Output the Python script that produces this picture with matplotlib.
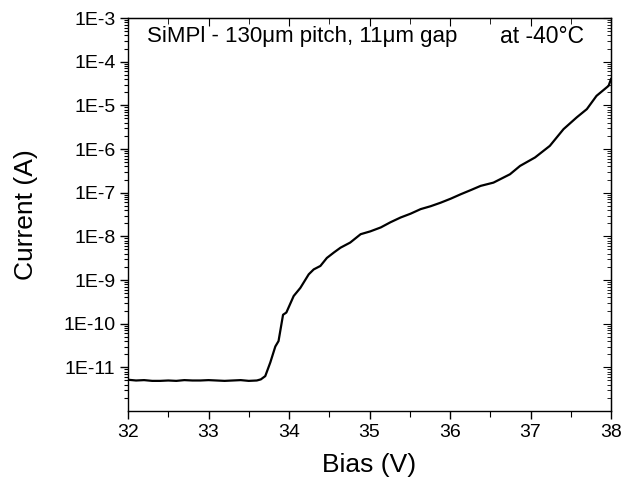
import matplotlib
matplotlib.use("Agg")
import matplotlib.pyplot as plt
from matplotlib.ticker import FixedLocator, LogLocator, NullFormatter, MultipleLocator

plt.rcParams['font.family'] = ['Liberation Sans', 'DejaVu Sans']

bias = [32.00, 32.10, 32.20, 32.30, 32.40, 32.50, 32.60, 32.70, 32.80, 32.90,
        33.00, 33.10, 33.20, 33.30, 33.40, 33.50, 33.60, 33.65, 33.705, 33.768,
        33.83, 33.87, 33.926, 33.967, 34.058, 34.141, 34.245, 34.307, 34.39, 34.47,
        34.56, 34.64, 34.76, 34.89, 35.01, 35.14, 35.26, 35.386, 35.51, 35.635,
        35.76, 35.884, 36.01, 36.133, 36.26, 36.38, 36.54, 36.745, 36.87, 37.056,
        37.24, 37.41, 37.574, 37.70, 37.82, 37.97, 38.00]
current = [5.2e-12, 5.0e-12, 5.1e-12, 4.9e-12, 4.9e-12, 5.0e-12, 4.9e-12, 5.1e-12, 5.0e-12, 5.0e-12,
           5.1e-12, 5.0e-12, 4.9e-12, 5.0e-12, 5.1e-12, 4.9e-12, 5.0e-12, 5.3e-12, 6.3e-12, 1.3e-11,
           3.0e-11, 4.0e-11, 1.6e-10, 1.8e-10, 4.3e-10, 6.6e-10, 1.35e-9, 1.75e-9, 2.1e-9, 3.2e-9,
           4.3e-9, 5.5e-9, 7.2e-9, 1.12e-8, 1.3e-8, 1.6e-8, 2.1e-8, 2.7e-8, 3.3e-8, 4.2e-8,
           4.9e-8, 5.9e-8, 7.3e-8, 9.2e-8, 1.15e-7, 1.43e-7, 1.7e-7, 2.64e-7, 4.1e-7, 6.4e-7,
           1.18e-6, 2.85e-6, 5.3e-6, 8.2e-6, 1.65e-5, 2.8e-5, 4.0e-5]

ytick_vals = [1e-11, 1e-10, 1e-9, 1e-8, 1e-7, 1e-6, 1e-5, 1e-4, 1e-3]
ytick_labels = ['1E-11', '1E-10', '1E-9', '1E-8', '1E-7', '1E-6', '1E-5', '1E-4', '1E-3']

fig = plt.figure(figsize=(6.29, 4.84), dpi=100)
ax = fig.add_axes([0.2035, 0.1508, 0.9714 - 0.2035, 0.9628 - 0.1508])
ax.plot(bias, current, color='black', lw=1.6)
ax.set_yscale('log')
ax.set_xlim(32, 38)
ax.set_ylim(1e-12, 1e-3)

ax.xaxis.set_major_locator(MultipleLocator(1))
ax.xaxis.set_minor_locator(MultipleLocator(0.5))
ax.yaxis.set_major_locator(FixedLocator(ytick_vals))
ax.set_yticklabels(ytick_labels)
ax.yaxis.set_minor_locator(LogLocator(base=10, subs=range(2, 10), numticks=20))
ax.yaxis.set_minor_formatter(NullFormatter())

for s in ax.spines.values():
    s.set_linewidth(1.0)

ax.tick_params(axis='both', which='major', labelsize=14, length=6, width=1.0, direction='out',
               top=False, right=False, pad=3)
ax.tick_params(axis='both', which='minor', length=3, width=0.8, direction='out', top=False, right=False)
ax.tick_params(axis='x', which='minor', length=4)

# inward ticks on top and right
axt = ax.secondary_xaxis('top')
axt.xaxis.set_major_locator(MultipleLocator(1))
axt.xaxis.set_minor_locator(MultipleLocator(0.5))
axt.tick_params(which='major', direction='in', length=6, labeltop=False)
axt.tick_params(which='minor', direction='in', length=4)
axt.set_xticklabels([])
axr = ax.secondary_yaxis('right')
axr.yaxis.set_major_locator(FixedLocator(ytick_vals))
axr.yaxis.set_minor_locator(LogLocator(base=10, subs=range(2, 10), numticks=20))
axr.yaxis.set_minor_formatter(NullFormatter())
axr.tick_params(which='major', direction='in', length=6, labelright=False)
axr.tick_params(which='minor', direction='in', length=3)
axr.set_yticklabels([])

ax.set_xlabel('Bias (V)', fontsize=19, labelpad=9)
ax.set_ylabel('Current (A)', fontsize=19, labelpad=18)

ax.text(0.039, 0.954, 'SiMPl - 130\u03bcm pitch, 11\u03bcm gap', transform=ax.transAxes,
        fontsize=16, va='center', ha='left')
ax.text(0.77, 0.954, 'at -40\u00b0C', transform=ax.transAxes,
        fontsize=16.5, va='center', ha='left')

fig.savefig('out.png', dpi=100)
